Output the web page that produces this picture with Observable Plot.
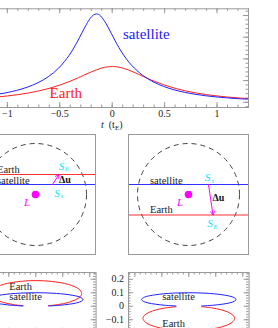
<!DOCTYPE html>
<html><head><meta charset="utf-8">
<script src="https://cdn.jsdelivr.net/npm/d3@7"></script>
<script src="https://cdn.jsdelivr.net/npm/@observablehq/plot@0.6"></script>
<style>
html,body{margin:0;padding:0;background:#fff;}
#fig{position:relative;width:278px;height:328px;overflow:hidden;font-family:"Liberation Serif",serif;}
#fig svg{position:absolute;}
.lab{position:absolute;font-family:"Liberation Serif",serif;font-size:10px;color:#222;white-space:nowrap;line-height:1;}
.lab sub{font-size:7px;vertical-align:-2px;}
</style></head><body><div id="fig"></div>
<script>
// ---------- light curves (time in tE, magnification) ----------
const tTickLabels = [-1, -0.5, 0, 0.5, 1];
const earthT = [-1.3,-1.2,-1.1,-1.0,-0.9,-0.8,-0.7,-0.6,-0.5,-0.4,-0.3,-0.25,-0.2,-0.15,-0.1,-0.05,0,0.05,0.1,0.15,0.2,0.25,0.3,0.4,0.5,0.6,0.7,0.8,0.9,1.0,1.1,1.2,1.3];
const earthMag = [1.170,1.203,1.242,1.292,1.353,1.429,1.524,1.644,1.792,1.973,2.183,2.293,2.400,2.498,2.577,2.630,2.648,2.630,2.577,2.498,2.400,2.293,2.183,1.973,1.792,1.644,1.524,1.429,1.353,1.292,1.242,1.203,1.170];
const satT = [-1.31,-1.21,-1.11,-1.01,-0.91,-0.81,-0.71,-0.61,-0.51,-0.41,-0.36,-0.31,-0.26,-0.21,-0.18,-0.15,-0.13,-0.11,-0.06,-0.01,0.04,0.09,0.14,0.19,0.29,0.39,0.49,0.59,0.69,0.79,0.89,0.99,1.09,1.19,1.30];
const satMag = [1.239,1.291,1.356,1.440,1.550,1.697,1.897,2.177,2.580,3.170,3.556,4.000,4.465,4.867,5.020,5.075,5.050,4.979,4.642,4.188,3.727,3.317,2.969,2.680,2.246,1.946,1.732,1.576,1.460,1.371,1.302,1.249,1.206,1.172,1.141];

// ---------- lens-plane diagrams (units of thetaE) ----------
const trackNames = ["Earth", "satellite"];
const leftTrackU = [0.4, 0.2];     // Earth, satellite
const rightTrackU = [-0.41, 0.2];  // Earth, satellite
const leftSourceX = [0.47, 0.34];  // S_E, S_s
const rightSourceX = [0.49, 0.40]; // S_E, S_s

// ---------- trajectory loops ----------
const loopYTicks = [-0.1, 0, 0.1, 0.2];
const satLoopX = [0.096,0.175,0.247,0.303,0.338,0.35,0.329,0.247,0.120,0,-0.120,-0.247,-0.329,-0.35,-0.338,-0.303,-0.247,-0.175,-0.096];
const satLoopY = [0.002,0.007,0.015,0.025,0.037,0.05,0.067,0.085,0.097,0.1,0.097,0.085,0.067,0.05,0.037,0.025,0.015,0.007,0.002];
const earthLoopX = [0.094,0.17,0.240,0.294,0.328,0.34,0.319,0.240,0.116,0,-0.116,-0.240,-0.319,-0.34,-0.328,-0.294,-0.240,-0.17,-0.094];
const earthLoopUpY = [0.004,0.013,0.028,0.048,0.070,0.095,0.128,0.162,0.184,0.19,0.184,0.162,0.128,0.095,0.070,0.048,0.028,0.013,0.004];
const earthLoopDownY = [-0.003,-0.012,-0.026,-0.045,-0.067,-0.09,-0.121,-0.154,-0.175,-0.18,-0.175,-0.154,-0.121,-0.09,-0.067,-0.045,-0.026,-0.012,-0.003];

// ---------------------------------------------------------------
const fig = document.getElementById("fig");
const FONT = "Liberation Serif";
const GRAY = "#999";
const fmt = d => (d < 0 ? "\u2212" : "") + Math.abs(d);
const baseStyle = {fontFamily: FONT, fontSize: "10px", background: "transparent", maxWidth: "none", overflow: "visible", color: "#222"};

function place(el, left, top) { el.style.left = left + "px"; el.style.top = top + "px"; fig.appendChild(el); }

function inTicks({xMaj = [], xMin = [], yMaj = [], yMin = [], iw, ih, maj = 5, min = 2.5}) {
  const o = {stroke: GRAY, strokeWidth: 1};
  const m = [];
  for (const [vals, L] of [[xMin, min], [xMaj, maj]]) {
    m.push(Plot.tickX(vals, {x: d => d, insetTop: ih - L, ...o}));
    m.push(Plot.tickX(vals, {x: d => d, insetBottom: ih - L, ...o}));
  }
  for (const [vals, L] of [[yMin, min], [yMaj, maj]]) {
    m.push(Plot.tickY(vals, {y: d => d, insetRight: iw - L, ...o}));
    m.push(Plot.tickY(vals, {y: d => d, insetLeft: iw - L, ...o}));
  }
  return m;
}

// ===== top panel: light curves =====
{
  const W = 300, H = 130, mL = 5.4, mR = 22, mT = 8.3, mB = 23;
  const earth = earthT.map((t, i) => ({t, a: earthMag[i]}));
  const sat = satT.map((t, i) => ({t, a: satMag[i]}));
  const svg = Plot.plot({
    width: W, height: H, marginLeft: mL, marginRight: mR, marginTop: mT, marginBottom: mB,
    x: {domain: [-1.3, 1.3]}, y: {domain: [0.76, 5.31]},
    style: baseStyle,
    marks: [
      ...inTicks({xMaj: tTickLabels, xMin: d3.range(-13, 14).map(i => i / 10),
                  yMaj: [1, 2, 3, 4, 5], yMin: d3.range(4, 27).map(i => i / 5),
                  iw: W - mL - mR, ih: H - mT - mB}),
      Plot.line(earth, {x: "t", y: "a", stroke: "#ff2020", strokeWidth: 1, curve: "catmull-rom"}),
      Plot.line(sat, {x: "t", y: "a", stroke: "#2020ff", strokeWidth: 1, curve: "catmull-rom"}),
      Plot.frame({stroke: GRAY}),
      Plot.text(["satellite"], {x: 0.103, y: 4.154, text: d => d, textAnchor: "start", fill: "#2020ff", fontSize: 15}),
      Plot.text(["Earth"], {x: -0.597, y: 1.436, text: d => d, textAnchor: "start", fill: "#ff2020", fontSize: 15}),
      Plot.axisX({ticks: tTickLabels, tickSize: 0, tickPadding: 2, tickFormat: fmt, label: null, fontSize: 10, fill: "#222"}),
      Plot.axisY({ticks: [], label: null})
    ]
  });
  place(svg, -30, 0);
  const lab = document.createElement("div");
  lab.className = "lab";
  lab.innerHTML = "<i>t</i>&nbsp;&nbsp;(t<sub>E</sub>)";
  place(lab, 101, 120);
}

// ===== middle: lens-plane diagrams =====
function diagram(trackU, srcX, frameLeft) {
  const M = 10;
  const [uE, uS] = trackU, [xE, xS] = srcX;
  const svg = Plot.plot({
    width: 120 + 2 * M, height: 120 + 2 * M, margin: M,
    x: {domain: [-1.2, 1.2], axis: null}, y: {domain: [-1.2, 1.2], axis: null},
    style: baseStyle,
    marks: [
      Plot.dot([0], {x: () => 0, y: () => 0, r: 51, fill: "none", stroke: "#444", strokeWidth: 1, strokeDasharray: "5,4"}),
      Plot.ruleY([uE], {y: d => d, stroke: "#ff3030", strokeWidth: 1}),
      Plot.ruleY([uS], {y: d => d, stroke: "#3030ff", strokeWidth: 1}),
      Plot.frame({stroke: GRAY}),
      Plot.text([trackNames[0]], {x: -0.77, y: uE + (uE > uS ? 0.1 : 0.11), text: d => d, textAnchor: "start", fill: "#222", fontSize: 10.5}),
      Plot.text([trackNames[1]], {x: -0.77, y: uS + 0.07, text: d => d, textAnchor: "start", fill: "#222", fontSize: 10.5}),
      Plot.dot([0], {x: () => 0, y: () => 0, r: 3.8, fill: "#ff00ff"}),
      Plot.text(["L"], {x: -0.17, y: -0.16, text: d => d, fill: "#ff00ff", fontStyle: "italic", fontSize: 11}),
      Plot.arrow([0], {x1: () => xS, y1: () => uS, x2: () => xE, y2: () => uE, stroke: "#ff00ff", strokeWidth: 1, headLength: 6}),
      // S labels
      Plot.text(["S"], {x: xS + (uE > uS ? 0.09 : -0.02), y: uS + (uE > uS ? -0.17 : 0.14), text: d => d, fill: "#00e8ff", fontStyle: "italic", fontSize: 11}),
      Plot.text(["s"], {x: xS + (uE > uS ? 0.09 : -0.02), y: uS + (uE > uS ? -0.17 : 0.14), text: d => d, fill: "#00e8ff", fontStyle: "italic", fontSize: 7, dx: 5, dy: 3}),
      Plot.text(["S"], {x: xE + (uE > uS ? 0.05 : -0.06), y: uE + (uE > uS ? 0.17 : -0.17), text: d => d, fill: "#00e8ff", fontStyle: "italic", fontSize: 11}),
      Plot.text(["E"], {x: xE + (uE > uS ? 0.05 : -0.06), y: uE + (uE > uS ? 0.17 : -0.17), text: d => d, fill: "#00e8ff", fontStyle: "italic", fontSize: 6.5, dx: 5.5, dy: 3}),
      Plot.text(["\u0394u"], {x: (uE > uS ? 0.59 : 0.6), y: (uE > uS ? 0.29 : -0.07), text: d => d, fill: "#111", fontWeight: "bold", fontSize: 10})
    ]
  });
  place(svg, frameLeft - M, 134.3 - M);
}
diagram(leftTrackU, leftSourceX, -24.7);
diagram(rightTrackU, rightSourceX, 128.3);

// ===== bottom: loops =====
function loops(earthY, frameLeft) {
  const W = 160, H = 100, mL = 30, mR = 9.4, mT = 10, mB = 29.25;
  const sat = satLoopX.map((x, i) => ({x, y: satLoopY[i]}));
  const earth = earthLoopX.map((x, i) => ({x, y: earthY[i]}));
  const up = earthY[9] > 0;
  const svg = Plot.plot({
    width: W, height: H, marginLeft: mL, marginRight: mR, marginTop: mT, marginBottom: mB,
    x: {domain: [-0.447, 0.447]}, y: {domain: [-0.2, 0.25]},
    style: baseStyle,
    marks: [
      ...inTicks({xMaj: [-0.4, -0.2, 0, 0.2, 0.4], xMin: d3.range(-11, 12).map(i => i * 0.04),
                  yMaj: [-0.2, ...loopYTicks], yMin: d3.range(-10, 13).map(i => i * 0.02),
                  iw: W - mL - mR, ih: H - mT - mB, maj: 5, min: 2.5}),
      Plot.line(earth, {x: "x", y: "y", stroke: "#ff2020", strokeWidth: 1, curve: "catmull-rom"}),
      Plot.line(sat, {x: "x", y: "y", stroke: "#2020ff", strokeWidth: 1, curve: "catmull-rom"}),
      Plot.frame({stroke: GRAY}),
      Plot.text(["Earth"], {x: -0.197, y: up ? 0.146 : -0.128, text: d => d, textAnchor: "start", fill: "#222", fontSize: 10.5}),
      Plot.text(["satellite"], {x: -0.197, y: 0.068, text: d => d, textAnchor: "start", fill: "#222", fontSize: 10.5}),
      Plot.axisY({ticks: loopYTicks, tickSize: 0, tickPadding: 4.5, tickFormat: fmt, label: null, fontSize: 10, fill: "#222"}),
      Plot.axisX({ticks: [], label: null})
    ]
  });
  place(svg, frameLeft - mL, 271.7 - mT);
}
loops(earthLoopUpY, -25.3);
loops(earthLoopDownY, 127.7);
</script></body></html>
